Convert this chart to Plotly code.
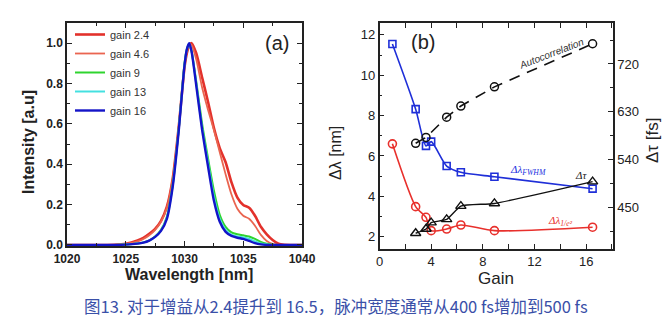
import plotly.graph_objects as go

W, H = 668, 329

# ---------------- Panel (a) data: normalized spectra ----------------
wavelength = [1020, 1023, 1024, 1025, 1026, 1026.5, 1027, 1027.5, 1028, 1028.5, 1029, 1029.5,
              1030, 1030.2, 1030.4, 1030.6, 1031, 1031.5, 1032, 1032.5, 1033, 1033.5, 1034,
              1034.5, 1035, 1035.5, 1036, 1036.5, 1037, 1037.5, 1038, 1038.5, 1039, 1040]
gain_2_4 = [0, 0, 0.001, 0.006, 0.022, 0.035, 0.055, 0.08, 0.12, 0.19, 0.33, 0.58,
            0.88, 0.95, 0.99, 1.0, 0.95, 0.83, 0.71, 0.58, 0.48, 0.41, 0.31,
            0.235, 0.198, 0.185, 0.145, 0.09, 0.053, 0.025, 0.006, 0.001, 0, 0]
gain_4_6 = [0, 0, 0.001, 0.005, 0.018, 0.03, 0.048, 0.075, 0.115, 0.185, 0.33, 0.58,
            0.89, 0.96, 0.995, 0.99, 0.92, 0.78, 0.67, 0.57, 0.46, 0.35, 0.25,
            0.18, 0.145, 0.13, 0.095, 0.05, 0.02, 0.005, 0.001, 0, 0, 0]
gain_9 = [0, 0, 0, 0.002, 0.007, 0.013, 0.023, 0.042, 0.075, 0.14, 0.30, 0.57,
          0.90, 0.97, 0.995, 0.96, 0.81, 0.60, 0.43, 0.27, 0.15, 0.09, 0.062,
          0.053, 0.048, 0.042, 0.03, 0.015, 0.006, 0.001, 0, 0, 0, 0]
gain_13 = [0, 0, 0, 0.002, 0.007, 0.012, 0.022, 0.041, 0.072, 0.135, 0.295, 0.565,
           0.895, 0.97, 0.998, 0.96, 0.80, 0.58, 0.41, 0.24, 0.13, 0.075, 0.05,
           0.042, 0.037, 0.03, 0.018, 0.007, 0.002, 0, 0, 0, 0, 0]
gain_16 = [0, 0, 0, 0.002, 0.007, 0.012, 0.022, 0.04, 0.07, 0.13, 0.29, 0.56,
           0.89, 0.97, 1.0, 0.96, 0.79, 0.57, 0.39, 0.22, 0.115, 0.065, 0.045,
           0.036, 0.03, 0.02, 0.009, 0.003, 0.0005, 0, 0, 0, 0, 0]
spectra_names = ["gain 2.4", "gain 4.6", "gain 9", "gain 13", "gain 16"]
spectra = [gain_2_4, gain_4_6, gain_9, gain_13, gain_16]
spectra_colors = ["#e3312b", "#ea6550", "#2fd42f", "#44e0e0", "#1414c8"]
spectra_widths = [2.6, 1.8, 2.0, 2.0, 2.4]

# ---------------- Panel (b) data ----------------
gain = [1.0, 2.8, 3.6, 4.0, 5.2, 6.3, 8.9, 16.5]
dl_fwhm = [11.55, 8.32, 6.5, 6.71, 5.5, 5.19, 4.97, 4.38]
dl_e2 = [6.6, 3.49, 2.96, 2.3, 2.38, 2.58, 2.3, 2.47]
gain_tau = [2.8, 3.6, 4.0, 5.2, 6.3, 8.9, 16.5]
dtau = [402, 410, 422, 428, 453, 458, 499]
gain_ac = [2.8, 3.6, 5.2, 6.3, 8.9, 16.5]
autocorr = [571, 582, 620, 641, 677, 758]

caption = "图13. 对于增益从2.4提升到 16.5，脉冲宽度通常从400 fs增加到500 fs"

# ---------------- layout geometry (pixels) ----------------
def px(x):
    return x / W

def py(y):
    return 1 - y / H

A_L, A_R, A_T, A_B = 67, 302, 23, 246
B_L, B_R, B_T, B_B = 379.5, 613, 23, 249

fig = go.Figure()

for name, vals, col, lw in zip(spectra_names, spectra, spectra_colors, spectra_widths):
    fig.add_trace(go.Scatter(x=wavelength, y=vals, mode="lines", name=name,
                             line=dict(color=col, width=lw, shape="spline", smoothing=0.6),
                             xaxis="x", yaxis="y"))

fig.add_trace(go.Scatter(x=gain, y=dl_fwhm, mode="lines+markers", showlegend=False,
                         line=dict(color="#1f2fd8", width=1.6, shape="spline", smoothing=0.7),
                         marker=dict(symbol="square-open", size=7, color="#1f2fd8",
                                     line=dict(width=1.6)),
                         xaxis="x2", yaxis="y2"))
fig.add_trace(go.Scatter(x=gain, y=dl_e2, mode="lines+markers", showlegend=False,
                         line=dict(color="#e8302c", width=1.6, shape="spline", smoothing=0.7),
                         marker=dict(symbol="circle-open", size=8, color="#e8302c",
                                     line=dict(width=1.6)),
                         xaxis="x2", yaxis="y2"))
fig.add_trace(go.Scatter(x=gain_tau, y=dtau, mode="lines+markers", showlegend=False,
                         line=dict(color="#111111", width=1.4, shape="spline", smoothing=0.5),
                         marker=dict(symbol="triangle-up-open", size=9, color="#111111",
                                     line=dict(width=1.4)),
                         xaxis="x2", yaxis="y3"))
fig.add_trace(go.Scatter(x=gain_ac, y=autocorr, mode="lines+markers", showlegend=False,
                         line=dict(color="#111111", width=1.6, dash="11px,8px"),
                         marker=dict(symbol="circle-open", size=8, color="#111111",
                                     line=dict(width=1.5)),
                         xaxis="x2", yaxis="y3"))

bold_tick = dict(family="Liberation Sans, Arial", size=12, color="#222", weight="bold")
reg_tick = dict(family="Liberation Sans, Arial", size=13, color="#222")

axis_common = dict(showline=True, linecolor="#222", linewidth=1.5, ticks="inside",
                   tickcolor="#222", ticklen=5, tickwidth=1.3, showgrid=False, zeroline=False,
                   automargin=False)

fig.update_layout(
    width=W, height=H, margin=dict(l=0, r=0, t=0, b=0, autoexpand=False),
    paper_bgcolor="white", plot_bgcolor="white",
    xaxis=dict(domain=[px(A_L), px(A_R)], range=[1020, 1040], anchor="y",
               dtick=5, tick0=1020, mirror="allticks", tickfont=bold_tick,
               ticklabelstandoff=1,
               minor=dict(dtick=2.5, ticks="inside", ticklen=3, tickcolor="#222"),
               **axis_common),
    yaxis=dict(domain=[py(A_B), py(A_T)], range=[-0.005, 1.1], anchor="x",
               dtick=0.2, tickformat=".1f", mirror="allticks", tickfont=bold_tick,
               minor=dict(dtick=0.1, ticks="inside", ticklen=3, tickcolor="#222"),
               **axis_common),
    xaxis2=dict(domain=[px(B_L), px(B_R)], range=[0, 18.08], anchor="y2",
                dtick=4, mirror="allticks", tickfont=reg_tick, ticklabelstandoff=0,
                minor=dict(dtick=2, ticks="inside", ticklen=3, tickcolor="#222"),
                **axis_common),
    yaxis2=dict(domain=[py(B_B), py(B_T)], range=[1.39, 12.59], anchor="x2",
                dtick=2, tickfont=reg_tick,
                minor=dict(dtick=1, ticks="inside", ticklen=3, tickcolor="#222"),
                **axis_common),
    yaxis3=dict(overlaying="y2", side="right", anchor="x2", range=[372.4, 797],
                tick0=450, dtick=90, tickfont=reg_tick,
                minor=dict(dtick=45, ticks="inside", ticklen=3, tickcolor="#222"),
                **axis_common),
    legend=dict(x=px(70), y=py(20), xanchor="left", yanchor="top",
                bgcolor="rgba(0,0,0,0)", font=dict(family="Liberation Sans, Arial", size=11, color="#333"),
                itemwidth=30, tracegroupgap=0),
    showlegend=True,
)

ann = []
title_bold = dict(family="Liberation Sans, Arial", size=16, color="#222", weight="bold")
ann.append(dict(text="Intensity [a.u]", x=px(28), y=py(142), textangle=-90, font=title_bold))
ann.append(dict(text="Wavelength [nm]", x=px(189), y=py(274), font=title_bold))
ann.append(dict(text="(a)", x=px(277), y=py(43), font=dict(family="Liberation Sans, Arial", size=20, color="#222")))
ann.append(dict(text="Gain", x=px(496), y=py(278), font=dict(family="Liberation Sans, Arial", size=17, color="#222")))
ann.append(dict(text="Δλ [nm]", x=px(336), y=py(153), textangle=-90,
                font=dict(family="Liberation Sans, Arial", size=16, color="#222")))
ann.append(dict(text="Δτ [fs]", x=px(652), y=py(141), textangle=-90,
                font=dict(family="Liberation Sans, Arial", size=17, color="#222")))
ann.append(dict(text="(b)", x=px(423), y=py(42), font=dict(family="Liberation Sans, Arial", size=20, color="#222")))
ann.append(dict(text="<i>Autocorrelation</i>", x=13.3, y=11.1, xref="x2", yref="y2", textangle=-21,
                font=dict(family="Liberation Sans, Arial", size=10, color="#333")))
ann.append(dict(text="<i>Δλ<sub>FWHM</sub></i>", x=11.5, y=5.3, xref="x2", yref="y2",
                font=dict(family="Liberation Serif, Times New Roman", size=11, color="#2030e0")))
ann.append(dict(text="<i>Δτ</i>", x=15.6, y=5.05, xref="x2", yref="y2",
                font=dict(family="Liberation Serif, Times New Roman", size=11, color="#222")))
ann.append(dict(text="<i>Δλ<sub>1/e²</sub></i>", x=14.0, y=2.8, xref="x2", yref="y2",
                font=dict(family="Liberation Serif, Times New Roman", size=11, color="#e8302c")))
ann.append(dict(text=caption, x=px(82), y=py(306), xanchor="left",
                font=dict(family="Noto Sans CJK SC", size=16.5, color="#3a50a8")))

for a in ann:
    a.setdefault("xref", "paper")
    a.setdefault("yref", "paper")
    a["showarrow"] = False
    a.setdefault("xanchor", "center")
    a.setdefault("yanchor", "middle")
fig.update_layout(annotations=ann)

fig.write_html("out.html")
